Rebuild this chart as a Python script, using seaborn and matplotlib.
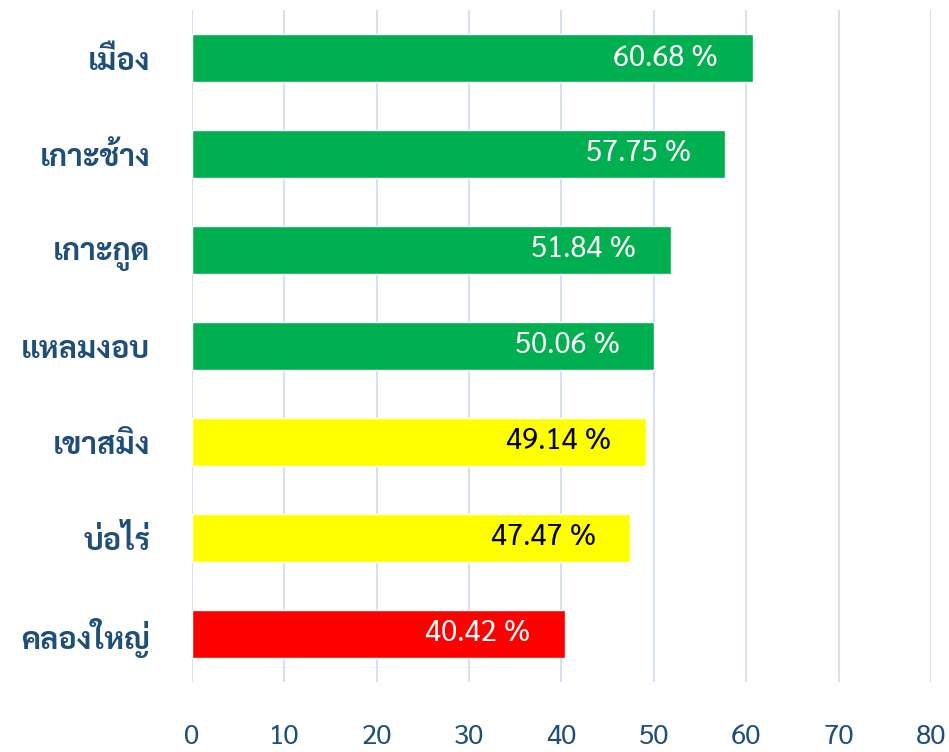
import matplotlib
matplotlib.use("Agg")
import matplotlib.pyplot as plt
import seaborn as sns
import pandas as pd

# district names and percentages
districts = ["เมือง", "เกาะช้าง", "เกาะกูด", "แหลมงอบ", "เขาสมิง", "บ่อไร่", "คลองใหญ่"]
percents = [60.68, 57.75, 51.84, 50.06, 49.14, 47.47, 40.42]
bar_colors = ["#00B050", "#00B050", "#00B050", "#00B050", "#FFFF00", "#FFFF00", "#FF0000"]
label_colors = ["white", "white", "white", "white", "black", "black", "white"]
x_ticks = [0, 10, 20, 30, 40, 50, 60, 70, 80]

df = pd.DataFrame({"district": districts, "percent": percents})

sns.set_theme(style="white")
plt.rcParams["font.family"] = ["Sarabun", "Noto Sans Thai", "Anuphan", "DejaVu Sans"]

fig = plt.figure(figsize=(9.49, 7.52), dpi=100)
ax = fig.add_axes([0.2023, 0.0931, 0.7787, 0.8936])

sns.barplot(data=df, x="percent", y="district", hue="district",
            palette=bar_colors, legend=False, width=0.51, saturation=1, ax=ax)

# value labels inside the bar end
for i, (v, c) in enumerate(zip(percents, label_colors)):
    ax.annotate(f"{v:.2f} %", xy=(v, i), xytext=(-25, 0), textcoords="offset points",
                ha="right", va="center", fontsize=21, color=c)

ax.set_xlim(0, 80)
ax.set_ylim(6.5, -0.5)
ax.set_xticks(x_ticks)
ax.set_xlabel("")
ax.set_ylabel("")
ax.set_axisbelow(True)
ax.xaxis.grid(True, color="#D6E0F0", linewidth=1.5)
for s in ax.spines.values():
    s.set_visible(False)
ax.tick_params(axis="x", length=0, pad=30, labelsize=20, labelcolor="#1F4E79")
ax.tick_params(axis="y", length=0, pad=30, labelsize=22, labelcolor="#1F4E79")
for t in ax.get_yticklabels():
    t.set_fontweight("bold")

fig.savefig("out.png", dpi=100)
